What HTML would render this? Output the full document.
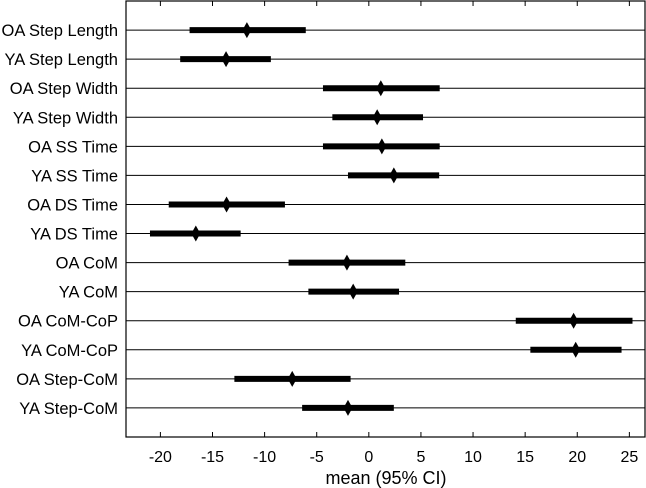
<!DOCTYPE html>
<html><head><meta charset="utf-8"><style>
body{margin:0;background:#fff}
svg{display:block;font-family:"Liberation Sans",Arial,sans-serif}
</style></head><body>
<svg id="chart" width="646" height="488"></svg>
<script>
const categories=["OA Step Length","YA Step Length","OA Step Width","YA Step Width","OA SS Time","YA SS Time","OA DS Time","YA DS Time","OA CoM","YA CoM","OA CoM-CoP","YA CoM-CoP","OA Step-CoM","YA Step-CoM"];
const means=[-11.7,-13.7,1.15,0.8,1.25,2.4,-13.65,-16.6,-2.1,-1.5,19.65,19.85,-7.35,-2.0];
const lows=[-17.2,-18.1,-4.4,-3.5,-4.4,-2.0,-19.2,-21.0,-7.7,-5.8,14.1,15.5,-12.9,-6.4];
const highs=[-6.05,-9.4,6.8,5.2,6.8,6.75,-8.05,-12.3,3.5,2.9,25.3,24.25,-1.75,2.4];
const xTicks=[-20,-15,-10,-5,0,5,10,15,20,25];
const xMin=-23.3,xMax=26.5;
const L=126,R=645,T=1,B=437;
const NS="http://www.w3.org/2000/svg";
const svg=document.getElementById('chart');
function x(v){return L+(v-xMin)/(xMax-xMin)*(R-L);}
function y(i){return T+(B-T)*(i+1)/(categories.length+1);}
function mk(tag,attrs,parent){const e=document.createElementNS(NS,tag);for(const k in attrs)e.setAttribute(k,attrs[k]);(parent||svg).appendChild(e);return e;}
const frame=mk('rect',{x:L,y:T,width:R-L,height:B-T,fill:'none',stroke:'#000','stroke-width':1.2});


xTicks.forEach(t=>{
  const tb=mk('line',{x1:x(t),x2:x(t),y1:B,y2:B-5,stroke:'#000'});
  
  
  const tt=mk('line',{x1:x(t),x2:x(t),y1:T,y2:T+5,stroke:'#000'});
  
  
  const lb=mk('text',{x:x(t),y:B+25,'text-anchor':'middle','font-size':16});
  lb.textContent=String(t);
  
  
});
categories.forEach((c,i)=>{
  const yy=y(i);
  const gl=mk('line',{x1:L,x2:R,y1:yy,y2:yy,stroke:'#000','stroke-width':1});
  
  
  const lb=mk('text',{x:118,y:yy+6,'text-anchor':'end','font-size':16.5});
  lb.textContent=c;
  
  
  const ci=mk('line',{x1:x(lows[i]),x2:x(highs[i]),y1:yy,y2:yy,stroke:'#000','stroke-width':6});
  
  
  const m=x(means[i]);
  const d=mk('polygon',{points:`${m},${yy-8} ${m+4.5},${yy} ${m},${yy+8} ${m-4.5},${yy}`,fill:'#000'});
  
  
});
const xt=mk('text',{x:386,y:484,'text-anchor':'middle','font-size':18});
xt.textContent='mean (95% CI)';


</script>
</body></html>
